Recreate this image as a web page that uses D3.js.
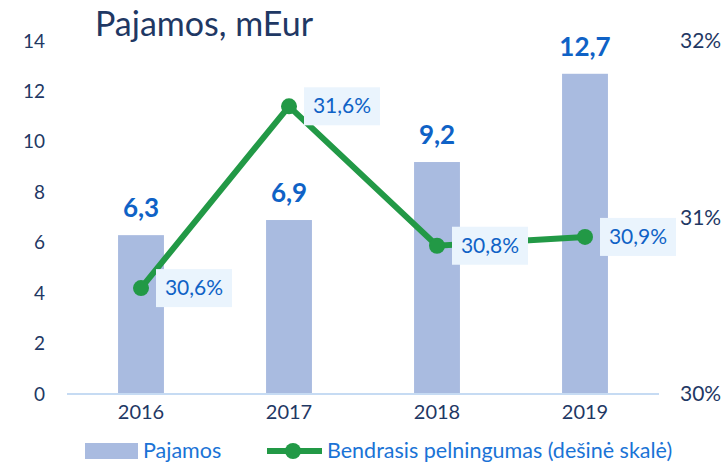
<!DOCTYPE html>
<html>
<head>
<meta charset="utf-8">
<script src="https://cdn.jsdelivr.net/npm/d3@7"></script>
<style>
  body { margin: 0; background: #fff; }
  text { font-family: Lato, "Open Sans", sans-serif; }
</style>
</head>
<body>
<script>
// data
const years = ["2016", "2017", "2018", "2019"]
const revenue = [6.3, 6.9, 9.2, 12.7]
const margin = [30.6, 31.63, 30.84, 30.89]
const leftTicks = [0, 2, 4, 6, 8, 10, 12, 14]
const rightTicks = [30, 31, 32]

const width = 726, height = 462
const navy = "#1f3864", blue = "#0f62c6", green = "#229946"

let svg = d3.select("body").append("svg")
  .attr("width", width)
  .attr("height", height)

let x = d3.scaleBand().domain(years).range([67, 659]).paddingInner(0.69).paddingOuter(0.345)
let y = d3.scaleLinear().domain([0, 14]).range([394, 41])
let y2 = d3.scaleLinear().domain([30, 32]).range([394, 41])
let fmt = v => d3.format(".1f")(v).replace(".", ",")

// title
svg.append("text")
  .attr("x", 95).attr("y", 36)
  .attr("fill", navy)
  .style("font-size", "34px")
  .text("Pajamos, mEur")

// left axis
let leftAxis = svg.append("g")
  .attr("transform", "translate(45,0)")
  .call(d3.axisLeft(y).tickValues(leftTicks).tickSize(0).tickPadding(0))
leftAxis.select(".domain").remove()
leftAxis.selectAll("text").attr("fill", navy).style("font-size", "19px")

// right axis
let rightAxis = svg.append("g")
  .attr("transform", "translate(680,0)")
  .call(d3.axisRight(y2).tickValues(rightTicks).tickSize(0).tickPadding(0).tickFormat(d => d + "%"))
rightAxis.select(".domain").remove()
rightAxis.selectAll("text").attr("fill", navy).style("font-size", "21px")

// bars
svg.append("g").selectAll("rect")
  .data(revenue)
  .enter()
  .append("rect")
    .attr("x", (d, i) => x(years[i]))
    .attr("y", d => y(d))
    .attr("width", x.bandwidth())
    .attr("height", d => y(0) - y(d))
    .attr("fill", "#a9bbe0")

// baseline
svg.append("line")
  .attr("x1", 67).attr("x2", 659)
  .attr("y1", y(0)).attr("y2", y(0))
  .attr("stroke", "#c6dbf3").attr("stroke-width", 2)

// x axis labels
let xAxis = svg.append("g")
  .attr("transform", "translate(0,405)")
  .call(d3.axisBottom(x).tickSize(0).tickPadding(0))
xAxis.select(".domain").remove()
xAxis.selectAll("text").attr("fill", navy).style("font-size", "20px")

// bar value labels
svg.append("g").selectAll("text")
  .data(revenue)
  .enter()
  .append("text")
    .attr("x", (d, i) => x(years[i]) + x.bandwidth() / 2)
    .attr("y", d => y(d) - 18)
    .attr("text-anchor", "middle")
    .attr("fill", blue)
    .style("font-size", "26px")
    .style("font-weight", "bold")
    .text(d => fmt(d))

// line
let cx = i => x(years[i]) + x.bandwidth() / 2
let line = d3.line()
  .x((d, i) => cx(i))
  .y(d => y2(d))

svg.append("path")
  .datum(margin)
  .attr("d", line)
  .attr("fill", "none")
  .attr("stroke", green)
  .attr("stroke-width", 6)

svg.append("g").selectAll("circle")
  .data(margin)
  .enter()
  .append("circle")
    .attr("cx", (d, i) => cx(i))
    .attr("cy", d => y2(d))
    .attr("r", 8)
    .attr("fill", green)

// line labels
let lab = svg.append("g").selectAll("g")
  .data(margin)
  .enter()
  .append("g")
    .attr("transform", (d, i) => `translate(${cx(i) + 15},${y2(d)})`)
lab.append("rect")
  .attr("x", 0).attr("y", -19)
  .attr("width", 76).attr("height", 38)
  .attr("fill", "#eaf4fd")
lab.append("text")
  .attr("x", 38).attr("y", 7)
  .attr("text-anchor", "middle")
  .attr("fill", blue)
  .style("font-size", "21px")
  .text(d => fmt(d) + "%")

// legend
let legend = svg.append("g").attr("transform", "translate(0,451)")
legend.append("rect")
  .attr("x", 85).attr("y", -8).attr("width", 53).attr("height", 16)
  .attr("fill", "#a9bbe0")
legend.append("text")
  .attr("x", 143).attr("y", 7)
  .attr("fill", "#1a73d6")
  .style("font-size", "21.5px")
  .text("Pajamos")
legend.append("line")
  .attr("x1", 267).attr("x2", 322)
  .attr("stroke", green).attr("stroke-width", 6)
legend.append("circle")
  .attr("cx", 293).attr("r", 8).attr("fill", green)
legend.append("text")
  .attr("x", 327).attr("y", 7)
  .attr("fill", "#1a73d6")
  .style("font-size", "21.5px")
  .text("Bendrasis pelningumas (dešinė skalė)")
</script>
</body>
</html>
